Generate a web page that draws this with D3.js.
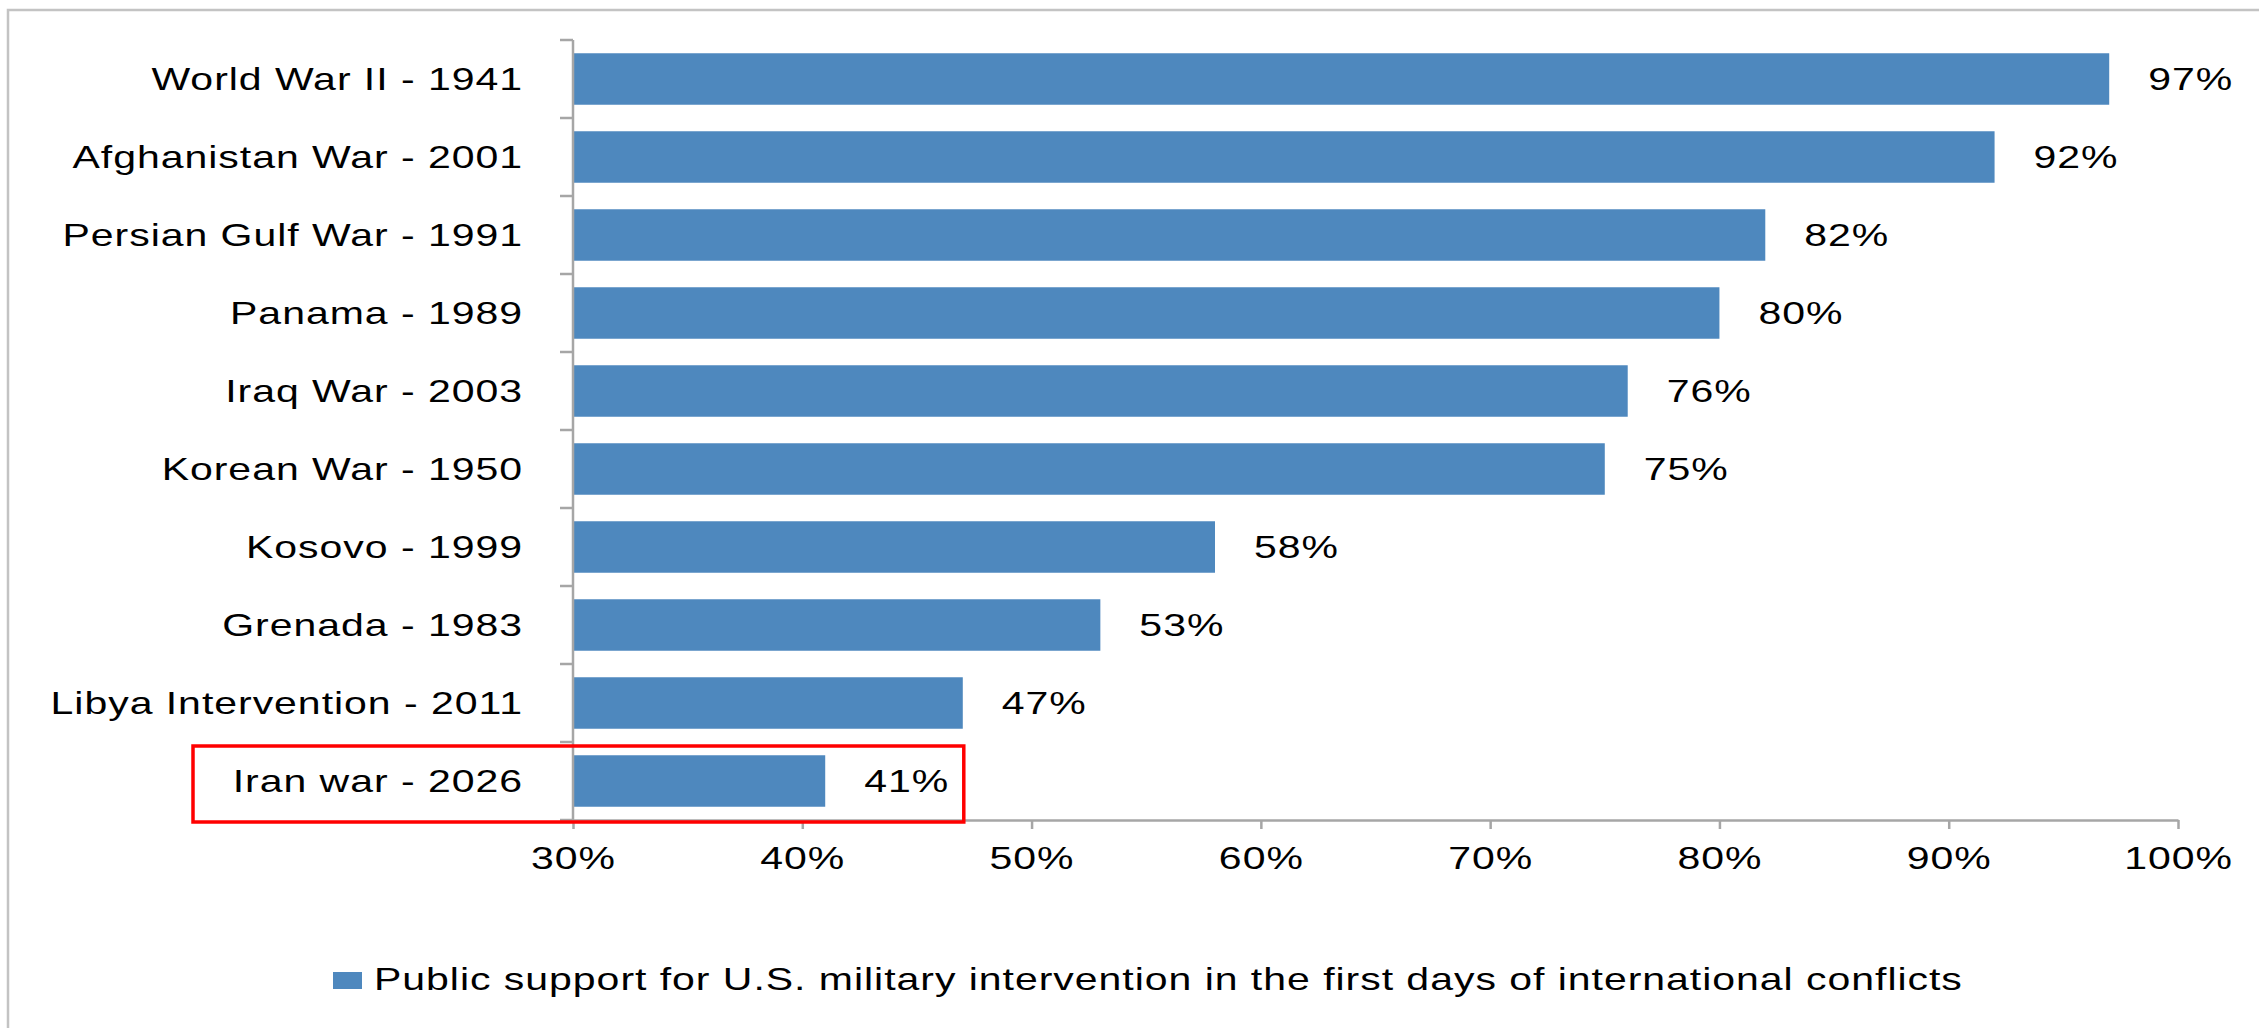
<!DOCTYPE html>
<html>
<head>
<meta charset="utf-8">
<script src="https://cdn.jsdelivr.net/npm/d3@7"></script>
<style>
  html, body { margin: 0; padding: 0; background: #fff; }
  svg { display: block; font-family: "Liberation Sans", Arial, sans-serif; }
</style>
</head>
<body>
<div id="chart"></div>
<script>
// data
const categories = [
  "World War II - 1941",
  "Afghanistan War - 2001",
  "Persian Gulf War - 1991",
  "Panama - 1989",
  "Iraq War - 2003",
  "Korean War - 1950",
  "Kosovo - 1999",
  "Grenada - 1983",
  "Libya Intervention - 2011",
  "Iran war - 2026"
];
const support = [97, 92, 82, 80, 76, 75, 58, 53, 47, 41];
const xTicks = [30, 40, 50, 60, 70, 80, 90, 100];
const legendLabel = "Public support for U.S. military intervention in the first days of international conflicts";
const highlighted = "Iran war - 2026";
const highlightTo = 47;

const W = 2259, H = 1028;
const barColor = "#4e88be";
const axisColor = "#a6a6a6";
const textColor = "#000";
const fontSize = 30.5;
const stretch = 1.345;   // text in the picture is drawn wide
const spacing = "0.72px";

const svg = d3.select("#chart")
  .append("svg")
  .attr("width", W)
  .attr("height", H);

// outer frame
svg.append("rect")
  .attr("x", 8).attr("y", 10)
  .attr("width", W + 50).attr("height", H + 50)
  .attr("fill", "none")
  .attr("stroke", "#c3c3c3")
  .attr("stroke-width", 2.5);

// Scales
const xScale = d3.scaleLinear()
  .domain([30, 100])
  .range([573, 2178]);

const yScale = d3.scaleBand()
  .domain(categories)
  .range([40, 820])
  .paddingInner(0.34)
  .paddingOuter(0.17);

const step = yScale.step();
const bandTop = d => yScale(d) - yScale.paddingInner() * step / 2;

// helper for the wide text
function wideText(parent, x, y, str, anchor) {
  const g = parent.append("g")
    .attr("transform", `translate(${x},${y}) scale(${stretch},1)`);
  g.append("text")
    .attr("text-anchor", anchor)
    .style("font-size", fontSize + "px")
    .style("letter-spacing", spacing)
    .attr("fill", textColor)
    .text(str);
  return g;
}

// Bars
svg.append("g")
  .selectAll("rect")
  .data(categories)
  .join("rect")
  .attr("x", xScale(30))
  .attr("y", d => yScale(d))
  .attr("width", (d, i) => xScale(support[i]) - xScale(30))
  .attr("height", yScale.bandwidth())
  .attr("fill", barColor);

// Value labels
const valG = svg.append("g");
categories.forEach((c, i) => {
  wideText(valG, xScale(support[i]) + 39, yScale(c) + yScale.bandwidth() / 2 + 11, support[i] + "%", "start");
});

// X axis
const xAxis = d3.axisBottom(xScale)
  .tickValues(xTicks)
  .tickFormat(d => d + "%")
  .tickSize(9)
  .tickSizeOuter(0)
  .tickPadding(18);

const xg = svg.append("g")
  .attr("transform", `translate(0,820)`)
  .call(xAxis);
xg.select(".domain").attr("stroke", axisColor).attr("stroke-width", 2.5);
xg.selectAll(".tick line").attr("stroke", axisColor).attr("stroke-width", 2.5);
xg.selectAll(".tick text")
  .attr("fill", textColor)
  .attr("transform", `scale(${stretch},1)`)
  .style("font-size", fontSize + "px")
  .style("letter-spacing", spacing)
  .style("font-family", "\"Liberation Sans\", Arial, sans-serif");

// Y axis: line plus ticks on band boundaries
const yg = svg.append("g");
yg.append("line")
  .attr("x1", xScale(30)).attr("x2", xScale(30))
  .attr("y1", bandTop(categories[0]))
  .attr("y2", 820)
  .attr("stroke", axisColor)
  .attr("stroke-width", 2.5);

const boundaries = categories.map(bandTop).concat([820]);
yg.selectAll(".ytick")
  .data(boundaries)
  .join("line")
  .attr("class", "ytick")
  .attr("x1", xScale(30) - 13).attr("x2", xScale(30))
  .attr("y1", d => d).attr("y2", d => d)
  .attr("stroke", axisColor)
  .attr("stroke-width", 2.5);

categories.forEach(c => {
  wideText(yg, 523, yScale(c) + yScale.bandwidth() / 2 + 11, c, "end");
});

// Highlight box around the latest conflict
svg.append("rect")
  .attr("x", 193)
  .attr("y", bandTop(highlighted) + 4)
  .attr("width", xScale(highlightTo) + 1 - 193)
  .attr("height", step - 2)
  .attr("fill", "none")
  .attr("stroke", "#ff0000")
  .attr("stroke-width", 3.5);

// Legend
const legend = svg.append("g");
legend.append("rect")
  .attr("x", 333).attr("y", 972)
  .attr("width", 29).attr("height", 17)
  .attr("fill", barColor);
wideText(legend, 374, 990, legendLabel, "start");
</script>
</body>
</html>
